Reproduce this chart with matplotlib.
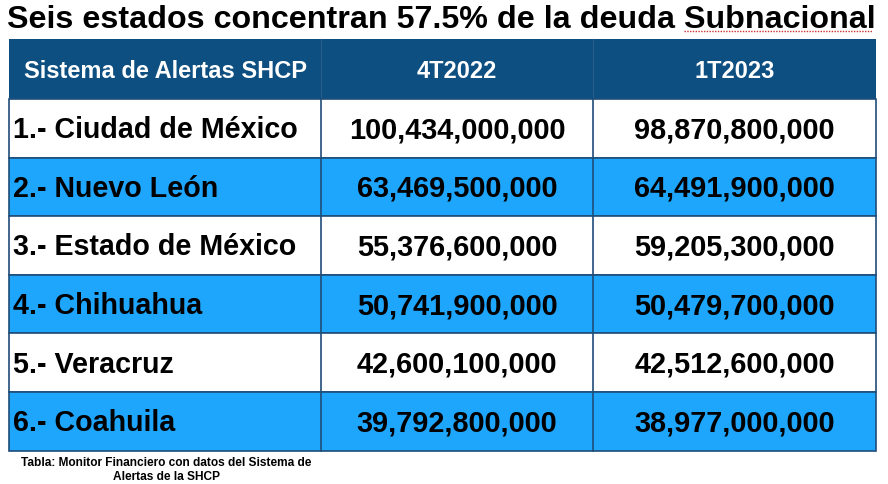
import matplotlib
matplotlib.use('Agg')
import matplotlib.pyplot as plt
from matplotlib.patches import Rectangle

plt.rcParams['font.family'] = ['Liberation Sans', 'DejaVu Sans']

titulo = "Seis estados concentran 57.5% de la deuda Subnacional"
encabezados = ["Sistema de Alertas SHCP", "4T2022", "1T2023"]
estados = ["1.- Ciudad de México", "2.- Nuevo León", "3.- Estado de México",
           "4.- Chihuahua", "5.- Veracruz", "6.- Coahuila"]
t4_2022 = [100434000000, 63469500000, 55376600000, 50741900000, 42600100000, 39792800000]
t1_2023 = [98870800000, 64491900000, 59205300000, 50479700000, 42512600000, 38977000000]
nota = "Tabla: Monitor Financiero con datos del Sistema de\nAlertas de la SHCP"

# colores
azul_osc = "#0D4F80"
azul_cla = "#1EA5FC"
borde = "#1F4E79"

W, H = 888, 485
fig = plt.figure(figsize=(W / 100, H / 100), dpi=100)
ax = fig.add_axes([0, 0, 1, 1])
ax.set_xlim(0, W)
ax.set_ylim(H, 0)
ax.axis('off')

# geometria en pixeles
cols = [9, 321, 593, 876]
y_head = (40, 100)
alto_fila = 58.6

ax.text(441, 20, titulo, ha='center', va='center', fontsize=23.2, fontweight='bold')
# subrayado del corrector ortografico
ax.plot([684, 872], [32, 32], color='#d03030', lw=1, ls=(0, (1, 1)))

# encabezado
ax.add_patch(Rectangle((cols[0], y_head[0]), cols[3] - cols[0], y_head[1] - y_head[0],
                       facecolor=azul_osc, edgecolor='none'))
for j, h in enumerate(encabezados):
    xc = (cols[j] + cols[j + 1]) / 2
    ax.text(xc, (y_head[0] + y_head[1]) / 2 + 1, h, ha='center', va='center',
            fontsize=17, fontweight='bold', color='white')
for x in cols[1:3]:
    ax.plot([x, x], y_head, color="#275d8a", lw=0.8)

# filas
for i, est in enumerate(estados):
    y0 = y_head[1] + i * alto_fila
    fc = 'white' if i % 2 == 0 else azul_cla
    ax.add_patch(Rectangle((cols[0], y0), cols[3] - cols[0], alto_fila,
                           facecolor=fc, edgecolor=borde, lw=1.2))
    for x in cols[1:3]:
        ax.plot([x, x], [y0, y0 + alto_fila], color=borde, lw=1.2)
    ym = y0 + alto_fila / 2 + 1
    ax.text(cols[0] + 4, ym, est, ha='left', va='center', fontsize=20.6, fontweight='bold')
    ax.text((cols[1] + cols[2]) / 2, ym, f"{t4_2022[i]:,}", ha='center', va='center',
            fontsize=20.8, fontweight='bold')
    ax.text((cols[2] + cols[3]) / 2, ym, f"{t1_2023[i]:,}", ha='center', va='center',
            fontsize=20.8, fontweight='bold')

ax.text(166, 470, nota, ha='center', va='center', fontsize=8.6, fontweight='bold',
        linespacing=1.3)

fig.savefig('out.png', dpi=100, facecolor='white')
